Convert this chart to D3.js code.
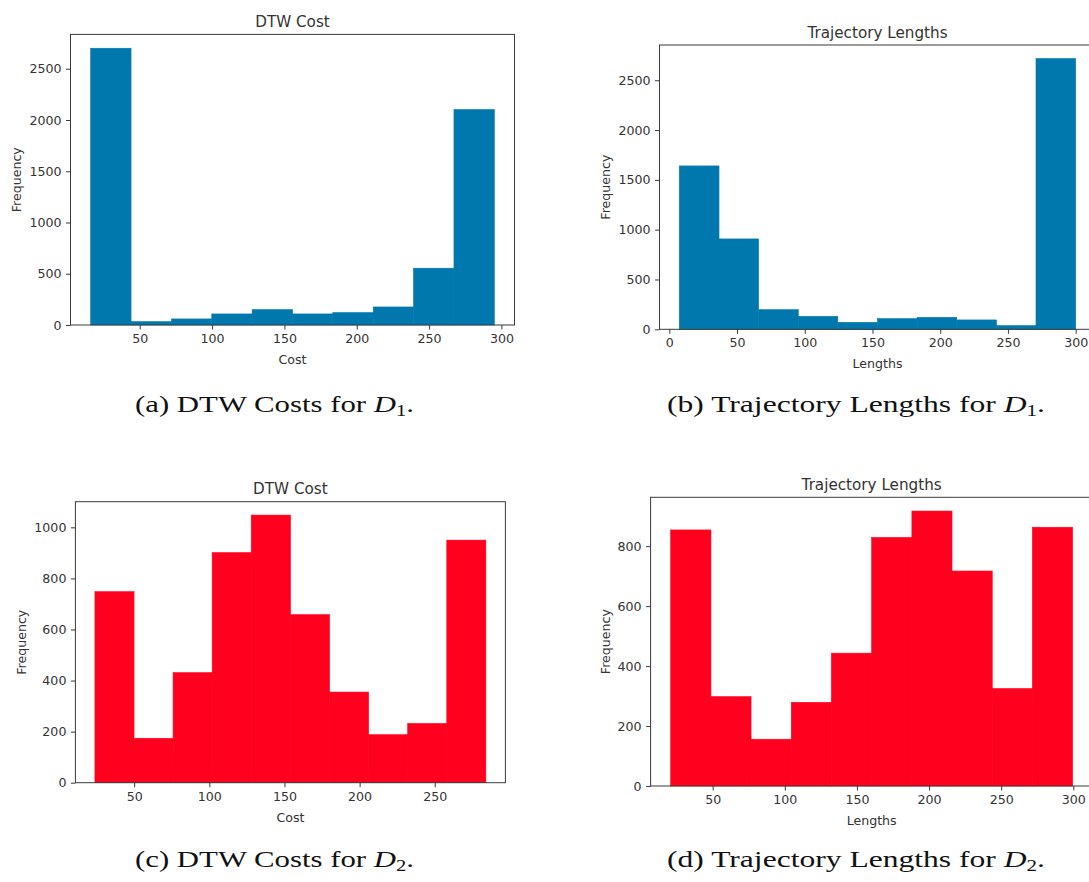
<!DOCTYPE html>
<html lang="en">
<head>
  <meta charset="utf-8">
  <title>DTW cost and trajectory length histograms</title>
  <script src="https://cdn.jsdelivr.net/npm/d3@7"></script>
  <style>
    body { margin: 0; background: #fff; }
    svg { display: block; }
    .tick text { fill: #333; }
  </style>
</head>
<body>
  <div id="chart-area"></div>

  <script>
    // bin edges + counts
    var costD1Edges = [16.1, 44.0, 71.9, 99.8, 127.7, 155.6, 183.5, 211.4, 239.3, 267.2, 295.1];
    var costD1Counts = [2700, 33, 59, 108, 150, 108, 121, 176, 554, 2102];

    var lenD1Edges = [7.4, 36.7, 65.9, 95.2, 124.4, 153.7, 183.0, 212.2, 241.5, 270.7, 300.0];
    var lenD1Counts = [1640, 907, 197, 130, 70, 107, 120, 94, 37, 2718];

    var costD2Edges = [23.9, 49.9, 75.9, 101.9, 127.9, 154.0, 180.0, 206.0, 232.0, 258.0, 284.0];
    var costD2Counts = [748, 174, 431, 901, 1048, 658, 355, 188, 232, 950];

    var lenD2Edges = [20.9, 48.8, 76.6, 104.5, 132.3, 160.2, 188.1, 215.9, 243.8, 271.6, 299.5];
    var lenD2Counts = [854, 298, 156, 279, 443, 829, 917, 717, 325, 863];

    // tick labels
    var yTicksD1 = [0, 500, 1000, 1500, 2000, 2500];
    var yTicksCostD2 = [0, 200, 400, 600, 800, 1000];
    var yTicksLenD2 = [0, 200, 400, 600, 800];
    var xTicksCost1 = [50, 100, 150, 200, 250, 300];
    var xTicksLen1 = [0, 50, 100, 150, 200, 250, 300];
    var xTicksCost2 = [50, 100, 150, 200, 250];
    var xTicksLen2 = [50, 100, 150, 200, 250, 300];

    var blue = "#0078ae";
    var red = "#ff001e";

    var svgWidth = 1089;
    var svgHeight = 882;

    var svg = d3.select("#chart-area")
                .append("svg")
                .attr("width", svgWidth)
                .attr("height", svgHeight);

    var tickFont = 12.6;
    var tickLen = 4.5;
    var tickPad = 4.5;

    function drawPanel(p) {
      var width = p.right - p.left;
      var height = p.bottom - p.top;
      var n = p.edges.length - 1;
      var span = p.edges[n] - p.edges[0];

      // matplotlib style 5% x margin, y from 0 to 1.05*max
      var x = d3.scaleLinear()
                .domain([p.edges[0] - 0.05 * span, p.edges[n] + 0.05 * span])
                .range([0, width]);
      var y = d3.scaleLinear()
                .domain([0, d3.max(p.counts) * 1.05])
                .range([height, 0]);

      var g = svg.append("g")
                 .attr("transform", "translate(" + p.left + "," + p.top + ")");

      var bins = p.counts.map(function(c, i) {
        return { x0: p.edges[i], x1: p.edges[i + 1], count: c };
      });

      // thin stroke in the same colour hides the seams between bars
      g.selectAll("rect.bar")
       .data(bins)
       .enter()
       .append("rect")
       .attr("class", "bar")
       .attr("x", function(d) { return x(d.x0); })
       .attr("width", function(d) { return x(d.x1) - x(d.x0); })
       .attr("y", function(d) { return y(d.count); })
       .attr("height", function(d) { return height - y(d.count); })
       .attr("fill", p.color)
       .attr("stroke", p.color)
       .attr("stroke-width", 0.6);

      // frame
      g.append("rect")
       .attr("width", width)
       .attr("height", height)
       .attr("fill", "none")
       .attr("stroke", "#3a3a3a")
       .attr("stroke-width", 1);

      var yAxisCall = d3.axisLeft(y)
                        .tickValues(p.yTicks)
                        .tickSize(tickLen)
                        .tickPadding(tickPad)
                        .tickFormat(d3.format("d"));
      var yAxis = g.append("g").call(yAxisCall);

      var xAxisCall = d3.axisBottom(x)
                        .tickValues(p.xTicks)
                        .tickSize(tickLen)
                        .tickPadding(tickPad)
                        .tickFormat(d3.format("d"));
      var xAxis = g.append("g")
                   .attr("transform", "translate(0," + height + ")")
                   .call(xAxisCall);

      [yAxis, xAxis].forEach(function(a) {
        a.select(".domain").remove();
        a.selectAll("line").attr("stroke", "#3a3a3a");
        a.selectAll("text")
         .attr("font-family", "DejaVu Sans")
         .attr("font-size", tickFont)
         .attr("fill", "#333");
      });

      // title
      g.append("text")
       .attr("x", width / 2)
       .attr("y", -7.5)
       .attr("text-anchor", "middle")
       .attr("font-family", "DejaVu Sans")
       .attr("font-size", 15.2)
       .attr("fill", "#333")
       .text(p.title);

      // x label
      g.append("text")
       .attr("x", width / 2)
       .attr("y", height + 39)
       .attr("text-anchor", "middle")
       .attr("font-family", "DejaVu Sans")
       .attr("font-size", tickFont)
       .attr("fill", "#333")
       .text(p.xLabel);

      // y label, placed left of the widest tick label
      var labelW = 0;
      yAxis.selectAll("text").each(function() {
        labelW = Math.max(labelW, this.getComputedTextLength());
      });
      var yl = -(tickLen + tickPad + labelW + 8);
      g.append("text")
       .attr("transform", "translate(" + yl + "," + (height / 2) + ") rotate(-90)")
       .attr("text-anchor", "middle")
       .attr("font-family", "DejaVu Sans")
       .attr("font-size", tickFont)
       .attr("fill", "#333")
       .text("Frequency");
    }

    drawPanel({ left: 70.5, top: 34.4, right: 514.5, bottom: 325,
                edges: costD1Edges, counts: costD1Counts, color: blue,
                xTicks: xTicksCost1, yTicks: yTicksD1,
                title: "DTW Cost", xLabel: "Cost" });

    drawPanel({ left: 659.5, top: 45, right: 1095.5, bottom: 329.3,
                edges: lenD1Edges, counts: lenD1Counts, color: blue,
                xTicks: xTicksLen1, yTicks: yTicksD1,
                title: "Trajectory Lengths", xLabel: "Lengths" });

    drawPanel({ left: 75.4, top: 501.7, right: 505.4, bottom: 782.7,
                edges: costD2Edges, counts: costD2Counts, color: red,
                xTicks: xTicksCost2, yTicks: yTicksCostD2,
                title: "DTW Cost", xLabel: "Cost" });

    drawPanel({ left: 650.6, top: 497.3, right: 1092.7, bottom: 786,
                edges: lenD2Edges, counts: lenD2Counts, color: red,
                xTicks: xTicksLen2, yTicks: yTicksLenD2,
                title: "Trajectory Lengths", xLabel: "Lengths" });

    // sub-figure captions
    var captions = [
      { pre: "(a) DTW Costs for ", sub: "1", cx: 274.5, y: 411.5, w: 279 },
      { pre: "(b) Trajectory Lengths for ", sub: "1", cx: 856, y: 411.5, w: 378 },
      { pre: "(c) DTW Costs for ", sub: "2", cx: 274.5, y: 867, w: 279 },
      { pre: "(d) Trajectory Lengths for ", sub: "2", cx: 856, y: 867, w: 378 }
    ];

    captions.forEach(function(c) {
      var t = svg.append("text")
                 .attr("x", c.cx - c.w / 2)
                 .attr("y", c.y)
                 .attr("font-family", "Liberation Serif")
                 .attr("font-size", 24)
                 .attr("fill", "#111")
                 .attr("textLength", c.w)
                 .attr("lengthAdjust", "spacingAndGlyphs");
      t.append("tspan").text(c.pre);
      t.append("tspan").attr("font-style", "italic").text("D");
      t.append("tspan").attr("font-size", 16).attr("dy", 4).text(c.sub);
      t.append("tspan").attr("dy", -4).text(".");
    });
  </script>
</body>
</html>
